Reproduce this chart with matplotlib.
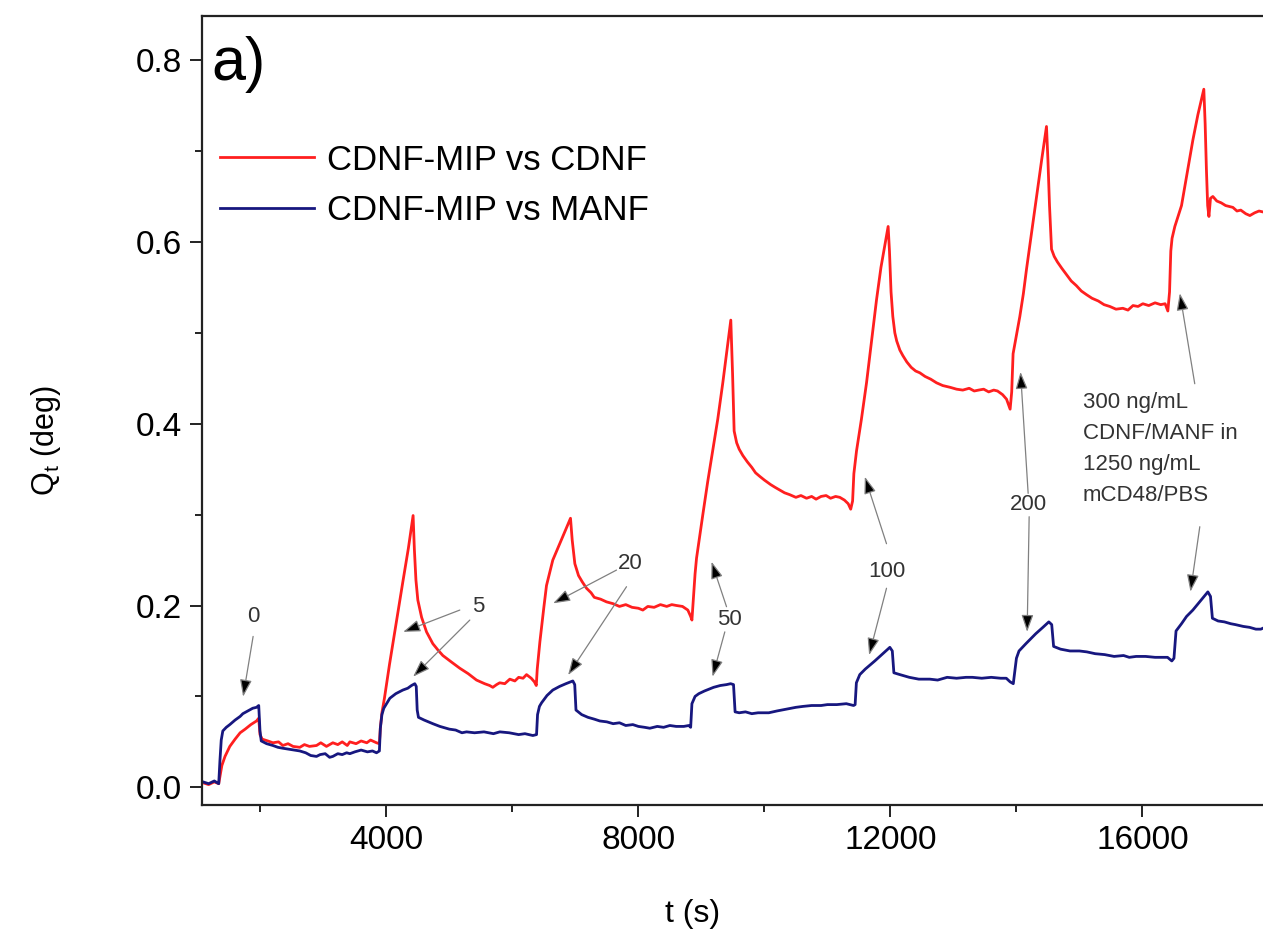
"""Sensor response (Q_t) of the CDNF-MIP film to CDNF and MANF injections."""

import numpy as np
import matplotlib

matplotlib.use("Agg")
import matplotlib.pyplot as plt
from matplotlib.ticker import MultipleLocator

plt.rcParams["font.family"] = ["Liberation Sans", "DejaVu Sans"]
plt.rcParams["mathtext.fontset"] = "custom"
plt.rcParams["mathtext.rm"] = "Liberation Sans"
plt.rcParams["mathtext.it"] = "Liberation Sans"

# (time s, Q_t deg)
cdnf_trace = [
    (1090, .005), (1180, .003), (1270, .006), (1340, .004), (1360, .012), (1390, .024),
    (1440, .034), (1516, .045), (1600, .053), (1680, .060), (1760, .064), (1850, .069),
    (1940, .073), (1975, .076), (1995, .058), (2030, .053), (2120, .051), (2200, .049),
    (2290, .050), (2357, .046), (2440, .048), (2520, .045), (2627, .044), (2700, .047),
    (2780, .045), (2892, .046), (2960, .049), (3050, .045), (3151, .049), (3230, .047),
    (3300, .050), (3380, .046), (3421, .050), (3520, .048), (3600, .051), (3690, .049),
    (3750, .052), (3844, .049), (3890, .048),
    (3905, .065), (3930, .082), (3970, .098), (4050, .135), (4150, .178), (4262, .226),
    (4350, .263), (4425, .299), (4445, .262), (4470, .228), (4500, .206), (4560, .187),
    (4638, .171), (4738, .158), (4820, .151), (4897, .145), (5030, .138), (5166, .131),
    (5300, .125), (5431, .118), (5560, .114), (5640, .112), (5690, .110), (5750, .113),
    (5800, .115), (5880, .114), (5960, .119), (6040, .117), (6100, .121), (6170, .120),
    (6225, .124), (6300, .120), (6350, .116), (6380, .112),
    (6395, .130), (6437, .160), (6500, .198), (6542, .222), (6642, .250), (6753, .268),
    (6850, .284), (6923, .296), (6950, .272), (6992, .246), (7050, .233), (7110, .226),
    (7177, .219), (7250, .214), (7300, .209), (7400, .207), (7495, .204), (7600, .202),
    (7700, .199), (7800, .201), (7900, .198), (8000, .197), (8071, .195), (8150, .199),
    (8250, .198), (8350, .201), (8450, .199), (8530, .201), (8606, .200), (8700, .199),
    (8785, .195), (8830, .188), (8850, .184),
    (8870, .205), (8900, .235), (8923, .252), (9023, .300), (9100, .336), (9182, .371),
    (9260, .405), (9340, .445), (9400, .478), (9467, .514), (9495, .455), (9520, .392),
    (9560, .379), (9600, .372), (9658, .365), (9730, .358), (9800, .352), (9860, .346),
    (9928, .342), (10000, .338), (10100, .333), (10170, .330), (10245, .327), (10320, .324),
    (10400, .322), (10500, .319), (10580, .321), (10669, .318), (10750, .320), (10820, .317),
    (10900, .320), (10980, .321), (11050, .318), (11130, .320), (11197, .319), (11270, .316),
    (11330, .312), (11370, .306),
    (11400, .315), (11420, .345), (11462, .370), (11540, .405), (11621, .445), (11700, .490),
    (11779, .536), (11850, .572), (11900, .592), (11964, .617), (11985, .590), (12010, .545),
    (12038, .518), (12070, .500), (12100, .491), (12150, .481), (12197, .475), (12260, .468),
    (12330, .462), (12400, .458), (12467, .456), (12550, .452), (12640, .449), (12732, .445),
    (12830, .442), (12950, .440), (13050, .438), (13149, .437), (13250, .439), (13330, .436),
    (13400, .437), (13480, .438), (13560, .435), (13640, .437), (13700, .436), (13780, .432),
    (13843, .427), (13880, .420), (13900, .416),
    (13925, .435), (13947, .477), (14000, .497), (14054, .518), (14110, .543), (14160, .570),
    (14240, .610), (14319, .650), (14400, .690), (14477, .727), (14500, .690), (14525, .640),
    (14557, .592), (14600, .584), (14650, .578), (14720, .571), (14795, .564), (14870, .557),
    (14950, .552), (15030, .546), (15112, .542), (15200, .538), (15300, .535), (15390, .531),
    (15482, .529), (15580, .526), (15689, .527), (15770, .525), (15850, .530), (15930, .529),
    (16006, .532), (16100, .530), (16200, .533), (16290, .531), (16360, .532), (16403, .524),
    (16430, .545), (16450, .590), (16470, .604), (16514, .617), (16560, .627), (16620, .640),
    (16700, .672), (16800, .712), (16880, .740), (16974, .768), (16995, .730), (17015, .680),
    (17035, .640), (17055, .628), (17080, .648), (17117, .650), (17180, .645), (17250, .643),
    (17320, .640), (17435, .638), (17500, .634), (17560, .635), (17640, .631), (17705, .629),
    (17780, .632), (17850, .634), (17911, .633),
]

manf_trace = [
    (1090, .006), (1180, .004), (1270, .007), (1340, .004), (1360, .030), (1380, .052),
    (1405, .062), (1460, .066), (1516, .069), (1600, .074), (1680, .078), (1723, .081),
    (1800, .084), (1880, .087), (1940, .088), (1975, .090), (1995, .062), (2015, .051),
    (2100, .048), (2200, .046), (2280, .044), (2357, .043), (2450, .042), (2540, .041),
    (2627, .040), (2720, .038), (2800, .035), (2892, .034), (2950, .036), (3030, .037),
    (3100, .033), (3151, .034), (3230, .037), (3300, .036), (3370, .038), (3421, .037),
    (3500, .039), (3600, .041), (3700, .039), (3780, .040), (3844, .038), (3890, .040),
    (3905, .065), (3930, .080), (3960, .087), (4056, .098), (4150, .103), (4262, .107),
    (4340, .109), (4400, .112), (4452, .114), (4475, .111), (4490, .085), (4510, .077),
    (4600, .074), (4738, .070), (4850, .067), (5000, .064), (5100, .063), (5200, .060),
    (5273, .061), (5400, .060), (5550, .061), (5700, .059), (5801, .061), (5950, .060),
    (6100, .058), (6200, .059), (6325, .057), (6384, .058),
    (6400, .080), (6430, .089), (6464, .093), (6550, .101), (6642, .107), (6750, .111),
    (6850, .114), (6960, .117), (6990, .113), (7010, .085), (7100, .080), (7200, .077),
    (7300, .075), (7388, .073), (7500, .072), (7600, .070), (7700, .071), (7800, .068),
    (7912, .069), (8000, .067), (8100, .066), (8182, .065), (8300, .067), (8400, .066),
    (8500, .068), (8600, .067), (8721, .067), (8800, .068), (8830, .066),
    (8850, .092), (8900, .100), (8959, .103), (9050, .106), (9194, .110), (9300, .112),
    (9400, .113), (9464, .114), (9510, .113), (9535, .083), (9600, .082), (9700, .083),
    (9800, .081), (9900, .082), (10070, .082), (10200, .084), (10350, .086), (10500, .088),
    (10610, .089), (10750, .090), (10900, .090), (11000, .091), (11150, .091), (11300, .092),
    (11416, .090), (11440, .091),
    (11460, .115), (11514, .124), (11600, .130), (11752, .139), (11880, .147), (11991, .154),
    (12030, .150), (12055, .126), (12150, .124), (12300, .121), (12450, .119), (12625, .119),
    (12750, .118), (12900, .121), (13050, .120), (13200, .121), (13301, .121), (13450, .120),
    (13600, .121), (13750, .120), (13839, .120), (13900, .116), (13950, .114),
    (13975, .128), (14000, .142), (14041, .150), (14150, .158), (14307, .169), (14420, .176),
    (14514, .182), (14560, .179), (14590, .155), (14700, .152), (14850, .150), (15000, .150),
    (15117, .149), (15250, .147), (15400, .146), (15550, .144), (15700, .145), (15791, .143),
    (15900, .144), (16050, .144), (16200, .143), (16398, .143), (16466, .139), (16500, .142),
    (16520, .160), (16533, .172), (16620, .180), (16700, .188), (16800, .195), (16920, .205),
    (17038, .215), (17080, .210), (17110, .186), (17200, .183), (17300, .182), (17400, .180),
    (17475, .179), (17600, .177), (17700, .176), (17800, .174), (17878, .174), (17911, .175),
]

series_labels = ["CDNF-MIP vs CDNF", "CDNF-MIP vs MANF"]
series_colors = ["#ff1f1f", "#17177f"]

# injected concentrations (ng/mL) marked on the traces
conc_labels = ["0", "5", "20", "50", "100", "200"]
last_injection = "300 ng/mL\nCDNF/MANF in\n1250 ng/mL\nmCD48/PBS"

t_cdnf, q_cdnf = np.array(cdnf_trace).T
t_manf, q_manf = np.array(manf_trace).T

fig = plt.figure(figsize=(12.63, 9.44), dpi=100)
ax = fig.add_axes([0.1597, 0.1472, 0.8596, 0.8361])

ax.plot(t_cdnf, q_cdnf, color=series_colors[0], lw=2.0, label=series_labels[0])
ax.plot(t_manf, q_manf, color=series_colors[1], lw=2.0, label=series_labels[1])

ax.set_xlim(1070, 18300)
ax.set_ylim(-0.0195, 0.8488)
ax.xaxis.set_major_locator(MultipleLocator(4000))
ax.xaxis.set_minor_locator(MultipleLocator(2000))
ax.yaxis.set_major_locator(MultipleLocator(0.2))
ax.yaxis.set_minor_locator(MultipleLocator(0.1))
ax.yaxis.set_major_formatter(plt.FormatStrFormatter("%.1f"))

for side in ax.spines.values():
    side.set_linewidth(1.6)
    side.set_color("#222222")
ax.tick_params(which="major", direction="out", length=8.5, width=1.4,
               labelsize=24, color="#222222", pad=6)
ax.tick_params(which="minor", direction="out", length=5, width=1.4, color="#222222")

ax.set_xlabel("t (s)", fontsize=23)
ax.xaxis.set_label_coords(0.4525, -0.119)
ax.set_ylabel(r"Q$_\mathregular{t}$ (deg)", fontsize=22)
ax.yaxis.set_label_coords(-0.128, 0.462)

ax.text(1230, 0.778, "a)", fontsize=44, ha="left", va="baseline")

ax.legend(loc="upper left", bbox_to_anchor=(0.0169, 0.838), frameon=False,
          fontsize=25, handlelength=2.7, handletextpad=0.38, labelspacing=0.5,
          borderpad=0, borderaxespad=0)

# concentration labels with arrows pointing at the red and blue traces
text_color = "#333333"
arrow_kw = dict(arrowstyle="-|>,head_length=0.8,head_width=0.28", mutation_scale=13,
                ec="#808080", fc="black", lw=0.9, shrinkA=0, shrinkB=0)
label_pos = [(1886, 0.188), (5452, 0.199), (7864, 0.246),
             (9451, 0.185), (11943, 0.237), (14186, 0.3106)]
arrows = [
    [((1886, 0.166), (1727, 0.0997))],
    [((5166, 0.195), (4267, 0.171)), ((5325, 0.184), (4425, 0.1217))],
    [((7653, 0.239), (6647, 0.2024)), ((7812, 0.2207), (6885, 0.1235))],
    [((9399, 0.1987), (9161, 0.2482)), ((9372, 0.171), (9177, 0.1217))],
    [((11938, 0.268), (11594, 0.3417)), ((11938, 0.219), (11662, 0.1455))],
    [((14186, 0.3234), (14065, 0.457)), ((14202, 0.2977), (14170, 0.171))],
]
for label, (tx, ty), pairs in zip(conc_labels, label_pos, arrows):
    ax.text(tx, ty, label, fontsize=16, color=text_color, ha="center", va="center")
    for tail, tip in pairs:
        ax.annotate("", xy=tip, xytext=tail, arrowprops=arrow_kw)

ax.text(15053, 0.372, last_injection, fontsize=16, color=text_color,
        ha="left", va="center", linespacing=1.62)
ax.annotate("", xy=(16593, 0.5435), xytext=(16830, 0.444), arrowprops=arrow_kw)
ax.annotate("", xy=(16762, 0.2152), xytext=(16910, 0.2867), arrowprops=arrow_kw)

fig.savefig("out.png", dpi=100)
